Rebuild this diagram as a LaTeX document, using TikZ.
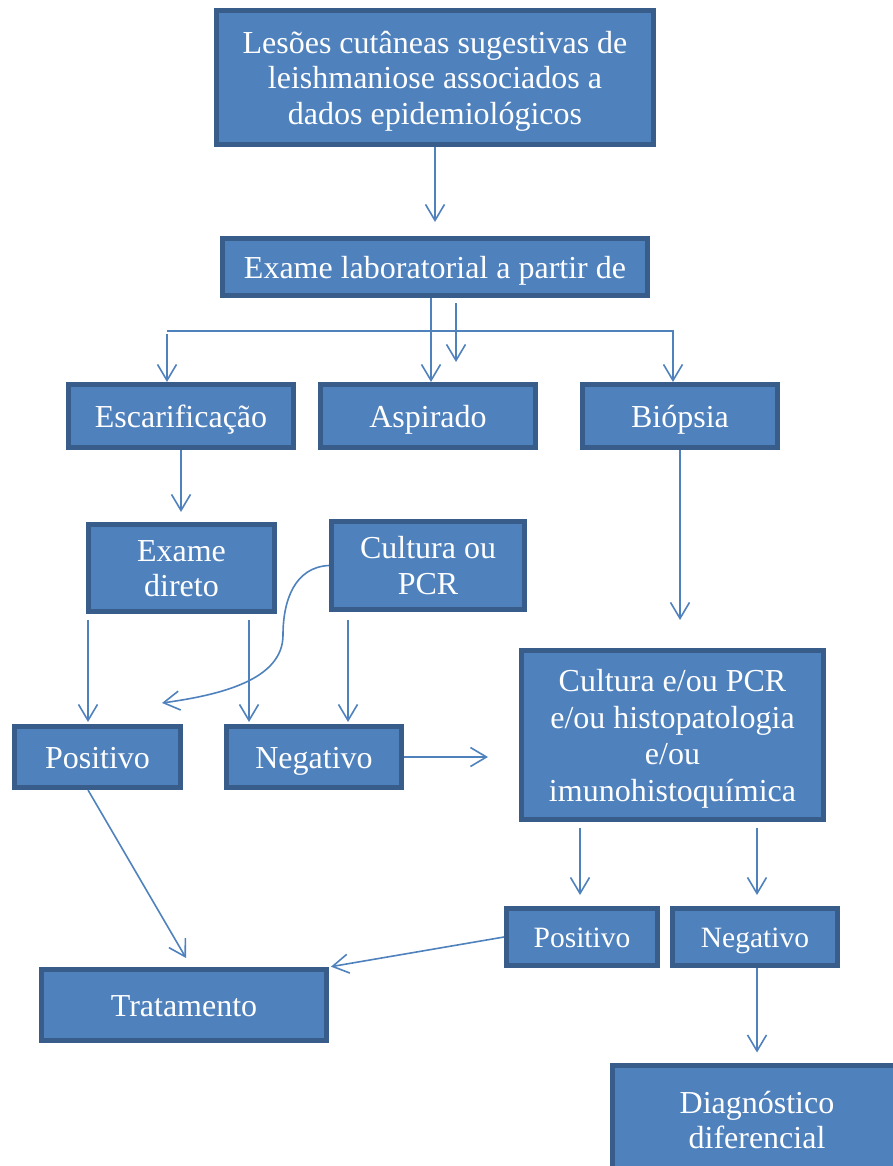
\documentclass[tikz,border=0pt]{standalone}
\usepackage{fontspec}
\setmainfont{Liberation Serif}
\usetikzlibrary{arrows.meta}
\definecolor{fillc}{HTML}{4F81BD}
\definecolor{bordc}{HTML}{385D8A}
\definecolor{arrc}{HTML}{4F81BD}
\newcommand{\boxtxt}[1]{\raisebox{-4pt}[\height][\depth]{\begin{tabular}{@{}c@{}}#1\end{tabular}}}
\tikzset{
  box/.style={draw=bordc, fill=fillc, line width=5pt, text=white, align=center,
    font=\fontsize{32}{35.5}\selectfont, inner sep=0pt},
  smallbox/.style={box, font=\fontsize{29.5}{33}\selectfont},
  arr/.style={draw=arrc, line width=1.6pt, -{Straight Barb[length=16pt,width=19pt]}},
}
\begin{document}
\begin{tikzpicture}[x=1pt,y=-1pt]
\useasboundingbox (0,0) rectangle (893,1166);
\clip (0,0) rectangle (893,1166);
% boxes
\node[box, minimum width=437pt, minimum height=134pt] (top) at (435,77.5)
  {\boxtxt{Lesões cutâneas sugestivas de\\leishmaniose associados a\\dados epidemiológicos}};
\node[box, minimum width=425pt, minimum height=57pt] (exlab) at (435,267) {\boxtxt{Exame laboratorial a partir de}};
\node[box, minimum width=225pt, minimum height=63pt] (escar) at (181,416) {\boxtxt{Escarificação}};
\node[box, minimum width=215pt, minimum height=63pt] (aspir) at (428,416) {\boxtxt{Aspirado}};
\node[box, minimum width=195pt, minimum height=63pt] (biop) at (680,416) {\boxtxt{Biópsia}};
\node[box, minimum width=186pt, minimum height=87pt] (exdir) at (181.5,568) {\boxtxt{Exame\\direto}};
\node[box, minimum width=193pt, minimum height=88pt] (cultpcr) at (428,565.5) {\boxtxt{Cultura ou\\PCR}};
\node[box, minimum width=166pt, minimum height=61pt] (posL) at (97.5,757) {\boxtxt{Positivo}};
\node[box, minimum width=175pt, minimum height=61pt] (negL) at (314,757) {\boxtxt{Negativo}};
\node[box, minimum width=302pt, minimum height=169pt, font=\fontsize{32}{36.5}\selectfont] (cultbig) at (672.5,735)
  {\boxtxt{Cultura e/ou PCR\\e/ou histopatologia\\e/ou\\imunohistoquímica}};
\node[smallbox, minimum width=151pt, minimum height=57pt] (posR) at (582,937) {\boxtxt{Positivo}};
\node[smallbox, minimum width=165pt, minimum height=57pt] (negR) at (755,937) {\boxtxt{Negativo}};
\node[box, minimum width=285pt, minimum height=71pt] (trat) at (184,1005) {\boxtxt{Tratamento}};
\node[box, minimum width=289pt, minimum height=110pt] (diag) at (757,1120) {\boxtxt{Diagnóstico\\diferencial}};
% helper coordinates
\coordinate (bl) at (167,331);
\coordinate (br) at (673,331);
\coordinate (xa) at (88,0);
\coordinate (xb) at (249,0);
\coordinate (xc) at (348,0);
\coordinate (xd) at (580,0);
\coordinate (xe) at (757,0);
\coordinate (free1) at (456,362);
\coordinate (free1s) at (456,303);
\coordinate (tipT) at (186,958);
% connectors
\draw[arr, shorten >=14pt] (top.south) -- (top.south |- exlab.north);
\draw[arr] (exlab.south -| 431,0) -- (aspir.north -| 431,0);
\draw[arr] (free1s) -- (free1);
\draw[arr] (bl) -- (br) -- (biop.north -| br);
\draw[arr] ([yshift=-3pt]bl) -- (escar.north -| bl);
\draw[arr, shorten >=10pt] (escar.south) -- (escar.south |- exdir.north);
\draw[arr, shorten >=28pt] (biop.south) -- (biop.south |- cultbig.north);
\draw[arr, shorten <=6pt, shorten >=2pt] (exdir.south -| xa) -- (posL.north -| xa);
\draw[arr, shorten <=6pt, shorten >=2pt] (exdir.south -| xb) -- (negL.north -| xb);
\draw[arr, shorten <=8pt, shorten >=2pt] (cultpcr.south -| xc) -- (negL.north -| xc);
\draw[arr] (cultpcr.west) .. controls (295,567) and (283,600) .. (283,635)
  .. controls (283,680) and (220,695) .. (162,703);
\draw[arr, shorten >=31pt] (negL.east) -- (negL.east -| cultbig.west);
\draw[arr] (posL.south -| xa) -- (tipT);
\draw[arr, shorten <=6pt, shorten >=11pt] (cultbig.south -| xd) -- (posR.north -| xd);
\draw[arr, shorten <=6pt, shorten >=11pt] (cultbig.south -| xe) -- (negR.north -| xe);
\draw[arr, shorten >=2pt] (posR.west) -- (trat.north east);
\draw[arr, shorten >=10pt] (negR.south -| xe) -- (diag.north -| xe);
\end{tikzpicture}
\end{document}
